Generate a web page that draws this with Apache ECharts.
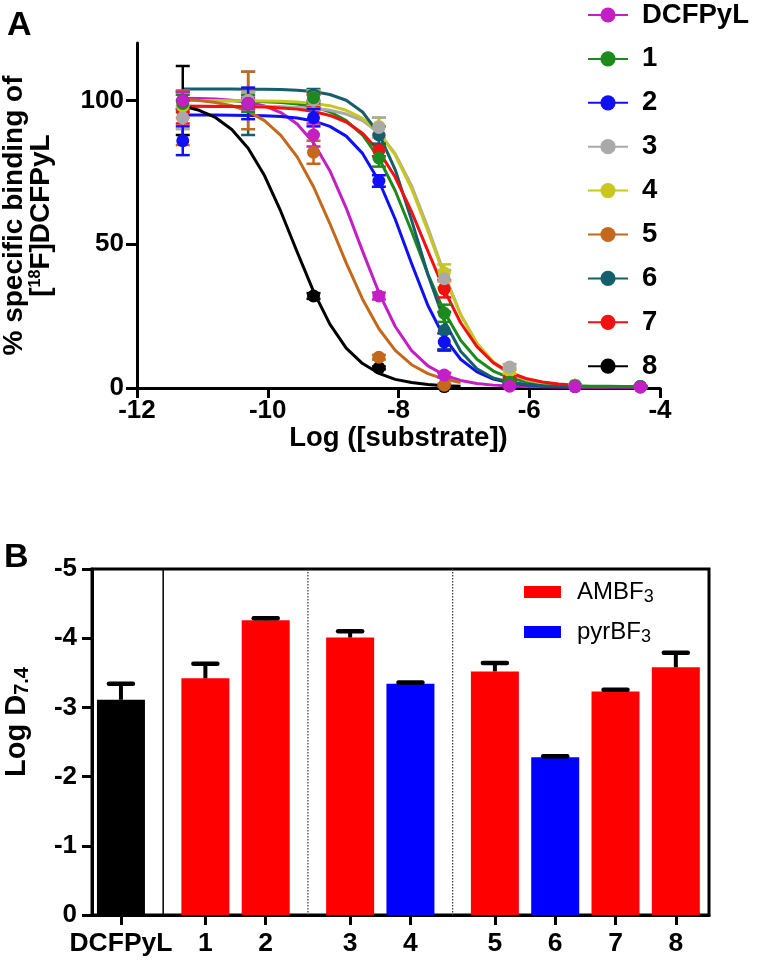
<!DOCTYPE html>
<html><head><meta charset="utf-8">
<script src="https://cdn.jsdelivr.net/npm/echarts@6/dist/echarts.min.js"></script>
<style>html,body{margin:0;padding:0;background:#fff}#c{width:757px;height:960px}</style>
</head><body><div id="c"></div>
<script>
// ---------- Panel A data ----------
const compoundNames = ['DCFPyL','1','2','3','4','5','6','7','8'];
const logConc = [-11.3,-10.3,-9.3,-8.3,-7.3,-6.3,-5.3,-4.3];
const meanDCFPyL = [100, 99, 88, 32, 4.5, 0.6, 0.5, 0.3];
const sdDCFPyL   = [3, 2, 4, 1.2, 0.8, 0.3, 0.2, 0.2];
const mean1 = [99, 99, 101, 80, 26, 2, 0.8, 0.5];
const sd1   = [3, 3, 2, 3, 3, 0.5, 0.3, 0.2];
const mean2 = [86, 99, 94, 72, 16, 1, 0.5, 0.4];
const sd2   = [5, 5.5, 3, 2, 3, 0.5, 0.3, 0.2];
const mean3 = [94, 100, 100, 90.6, 38, 7.3, 1, 0.5];
const sd3   = [4, 3, 3, 3.5, 3, 1, 0.3, 0.2];
const mean4 = [98, 100, 101, 91, 40, 6, 1, 0.5];
const sd4   = [4, 3, 2.5, 3, 3, 1, 0.3, 0.2];
const mean5 = [94, 100, 82, 10.7, 1];
const sd5   = [9.5, 10, 4, 0.8, 0.5];
const mean6 = [100, 99, 102, 88, 20, 2, 0.8, 0.5];
const sd6   = [3, 11, 2, 3, 6.5, 0.5, 0.3, 0.2];
const mean7 = [96, 100, 100, 82.6, 34.5, 3, 1, 0.5];
const sd7   = [4, 3, 2, 2, 3, 0.5, 0.3, 0.2];
const mean8 = [100, null, 32, 7, 0.5];
const sd8   = [12, null, 1, 0.5, 0.2];

const curveX = [-11.3,-11.05,-10.8,-10.55,-10.3,-10.05,-9.8,-9.55,-9.3,-9.05,-8.8,-8.55,-8.3,-8.05,-7.8,-7.55,-7.3,-7.05,-6.8,-6.55,-6.3,-6.05,-5.8,-5.55,-5.3,-5.05,-4.8,-4.55,-4.3];
const curveDCFPyL = [100.8,100.7,100.5,100.1,99.4,98.1,95.8,91.8,85.3,75.6,62.6,47.6,33.2,21.4,13.0,7.7,4.5,2.6,1.6,1.0,0.7,0.5,0.4,0.35,0.3,0.3,0.3,0.3,0.3];
const curve1 = [100.0,100.0,99.9,99.9,99.8,99.6,99.3,98.8,97.8,96.1,93.0,88.0,80.0,68.6,54.5,39.6,26.5,16.6,10.0,5.9,3.5,2.2,1.4,1.0,0.8,0.65,0.6,0.55,0.5];
const curve2 = [95.0,95.0,95.0,94.9,94.8,94.7,94.4,93.9,92.9,91.0,87.6,81.6,72.0,58.7,43.3,28.7,17.5,10.0,5.6,3.1,1.8,1.1,0.7,0.5,0.4];
const curve3 = [98.0,98.0,98.0,98.0,97.9,97.9,97.8,97.6,97.3,96.6,95.3,93.0,88.7,81.5,70.3,55.7,39.7,25.6,15.3,8.7,4.9,2.8,1.7,1.1,0.8];
const curve4 = [100.0,100.0,100.0,99.9,99.9,99.8,99.7,99.5,99.0,98.2,96.6,93.8,88.9,81.0,69.4,54.6,39.1,25.6,15.6,9.1,5.3,3.1,1.9,1.2,0.9];
const curve5 = [100.4,100.0,99.3,98.2,96.2,93.0,87.9,80.4,70.0,57.2,43.5,30.9,20.6,13.1,8.1,5.0,3.1,1.9];
const curve6 = [104.0,104.0,104.0,104.0,103.9,103.9,103.8,103.6,103.1,102.1,100.1,96.0,88.5,75.9,58.4,39.4,23.4,12.8,6.7,3.5,2.0,1.2,0.8,0.65,0.55];
const curve7 = [98.0,98.0,97.9,97.9,97.8,97.7,97.4,97.0,96.2,94.8,92.5,88.6,82.4,73.3,61.3,47.6,34.1,22.7,14.4,8.8,5.4,3.3,2.1,1.4,1.0];
const curve8 = [98.1,96.6,94.1,89.9,83.4,73.9,61.4,47.3,33.6,22.2,13.9,8.5,5.1,3.0,1.9,1.2,0.8,0.6];
const yTicksA = [0,50,100];

// ---------- Panel B data ----------
const barCats   = ['DCFPyL','1','2','3','4','5','6','7','8'];
const barGroup  = [0,1,1,2,2,3,3,3,3];
const barType   = ['DCFPyL','AMBF3','AMBF3','AMBF3','pyrBF3','AMBF3','pyrBF3','AMBF3','AMBF3'];
const barValues = [-3.11,-3.42,-4.26,-4.01,-3.34,-3.52,-2.28,-3.23,-3.58];
const barErrors = [0.23,0.21,0.03,0.09,0.02,0.12,0.015,0.025,0.21];

// ---------- styles ----------
const FONT = '"Liberation Sans", Arial, Helvetica, sans-serif';
const colors = ['#c41fc4','#1e8a1e','#1010f5','#a9a9a9','#c8c620','#c4681c','#145f6b','#f21010','#000000'];
const typeColor = {DCFPyL:'#000000', AMBF3:'#ff0000', pyrBF3:'#0000ff'};
const GROUP_GAP = 0.4;

const means = [meanDCFPyL,mean1,mean2,mean3,mean4,mean5,mean6,mean7,mean8];
const sds = [sdDCFPyL,sd1,sd2,sd3,sd4,sd5,sd6,sd7,sd8];
const curves = [curveDCFPyL,curve1,curve2,curve3,curve4,curve5,curve6,curve7,curve8];

function errRender(color){
  return function(params, api){
    const x = api.value(0), m = api.value(1), e = api.value(2);
    const t = api.coord([x, m + e]), b = api.coord([x, m - e]);
    const hw = 7, st = {stroke: color, lineWidth: 2.5};
    return {type:'group', children:[
      {type:'line', shape:{x1:t[0],y1:t[1],x2:b[0],y2:b[1]}, style:st},
      {type:'line', shape:{x1:t[0]-hw,y1:t[1],x2:t[0]+hw,y2:t[1]}, style:st},
      {type:'line', shape:{x1:b[0]-hw,y1:b[1],x2:b[0]+hw,y2:b[1]}, style:st}
    ]};
  };
}

const series = [];
compoundNames.forEach((name,k)=>{
  series.push({type:'line', name, xAxisIndex:0, yAxisIndex:0,
    data: curves[k].map((v,i)=>[curveX[i], v]),
    smooth:false, showSymbol:false, symbol:'circle', symbolSize:14,
    lineStyle:{color:colors[k], width:3, join:'round'}, itemStyle:{color:colors[k]}, z:2, silent:true});
});
for (let k = compoundNames.length-1; k >= 0; k--) {
  const pts = logConc.map((x,i)=>[x, means[k][i], sds[k][i]]).filter(p=>p[1]!=null);
  series.push({type:'custom', name:compoundNames[k]+' sd', xAxisIndex:0, yAxisIndex:0,
    renderItem: errRender(colors[k]), data: pts, z:3, silent:true});
  series.push({type:'scatter', name:compoundNames[k]+' pts', xAxisIndex:0, yAxisIndex:0,
    data: pts.map(p=>[p[0],p[1]]), symbolSize:13, itemStyle:{color:colors[k], opacity:1}, z:4, silent:true});
}

// Panel B
const barPos = barCats.map((c,i)=> i + barGroup[i]*GROUP_GAP);
const separators = [];
for (let i=1;i<barCats.length;i++) if (barGroup[i]!==barGroup[i-1]) separators.push((barPos[i-1]+barPos[i])/2);
['DCFPyL','AMBF3','pyrBF3'].forEach((t)=>{
  series.push({type:'bar', name:t==='DCFPyL'?'DCFPyL bar':t, xAxisIndex:1, yAxisIndex:1, barWidth:48, barGap:'-100%',
    itemStyle:{color:typeColor[t]}, z:2, silent:true,
    data: barCats.map((c,i)=> barType[i]===t ? [barPos[i], barValues[i]] : null).filter(Boolean)});
});
series.push({type:'custom', name:'separators', xAxisIndex:1, yAxisIndex:1, z:1, silent:true,
  data: separators.map((x,j)=>[x, j]),
  renderItem:function(params, api){
    const cs = params.coordSys;
    const px = api.coord([api.value(0), 0])[0];
    const first = api.value(1) === 0;
    return {type:'line', shape:{x1:px, y1:cs.y, x2:px, y2:cs.y+cs.height},
      style:{stroke: first ? '#000' : '#333', lineWidth: first ? 1.5 : 1.2, lineDash: first ? null : [1.5,1.5]}};
  }});
series.push({type:'custom', name:'barErr', xAxisIndex:1, yAxisIndex:1, z:3, silent:true,
  data: barCats.map((c,i)=>[barPos[i], barValues[i], barErrors[i]]),
  renderItem:function(params, api){
    const x = api.value(0), v = api.value(1), e = api.value(2);
    const a = api.coord([x, v]), b = api.coord([x, v - e]);
    return {type:'group', children:[
      {type:'line', shape:{x1:a[0],y1:a[1],x2:b[0],y2:b[1]}, style:{stroke:'#000', lineWidth:4}},
      {type:'line', shape:{x1:b[0]-12,y1:b[1],x2:b[0]+12,y2:b[1]}, style:{stroke:'#000', lineWidth:4.5, lineCap:'round'}}
    ]};
  }});

const axisLine = () => ({show:true, onZero:false, lineStyle:{color:'#000', width:3}});
const tick = {show:true, length:10, lineStyle:{color:'#000', width:3}};
const lbl = {color:'#000', fontSize:26, fontWeight:'bold', fontFamily:FONT};

const option = {
  animation:false,
  backgroundColor:'#fff',
  textStyle:{fontFamily:FONT},
  graphic:[
    {type:'text', left:7, top:9, style:{text:'A', font:'bold 34px '+FONT, fill:'#000'}},
    {type:'text', left:4, top:541, style:{text:'B', font:'bold 34px '+FONT, fill:'#000'}}
  ],
  legend:[
    {data:compoundNames, orient:'vertical', left:582, top:-4, itemWidth:40, itemHeight:19, itemGap:15.9,
     selectedMode:false,
     textStyle:{fontSize:27.5, fontWeight:'bold', color:'#000', fontFamily:FONT, lineHeight:27, padding:[0,0,0,9]}},
    {data:['AMBF3','pyrBF3'], orient:'vertical', left:519, top:573, itemWidth:37, itemHeight:12, itemGap:12,
     icon:'rect', selectedMode:false,
     formatter: n => n.replace(/(\d)$/, '{sub|$1}'),
     textStyle:{fontSize:24, color:'#000', fontFamily:FONT, lineHeight:28, padding:[0,0,0,11],
       rich:{sub:{fontSize:18, color:'#000', fontFamily:FONT, verticalAlign:'bottom', lineHeight:10}}}}
  ],
  grid:[
    {left:137, top:43, width:523, height:345, outerBoundsMode:'none', containLabel:false},
    {left:92, top:569, width:617, height:346, outerBoundsMode:'none', containLabel:false,
     show:true, borderColor:'#000', borderWidth:3, backgroundColor:'transparent'}
  ],
  xAxis:[
    {type:'value', gridIndex:0, min:-12, max:-4, interval:2,
     axisLine:axisLine(), axisTick:tick, splitLine:{show:false},
     axisLabel:{...lbl, margin:10},
     name:'Log ([substrate])', nameLocation:'middle', nameGap:35,
     nameTextStyle:{...lbl, fontSize:27.5}},
    {type:'value', gridIndex:1, min:-0.48, max:9.75,
     axisLine:axisLine(), splitLine:{show:false},
     axisTick:{...tick, customValues:barPos},
     axisLabel:{...lbl, fontSize:26.5, margin:15, customValues:barPos,
       formatter: v => { const i = barPos.findIndex(p=>Math.abs(p-v)<1e-6); return i>=0 ? barCats[i] : ''; }}}
  ],
  yAxis:[
    {type:'value', gridIndex:0, min:0, max:120, interval:50,
     axisLine:axisLine(), splitLine:{show:false},
     axisTick:{...tick, length:11, customValues:yTicksA},
     axisLabel:{...lbl, margin:13, customValues:yTicksA},
     name:'% specific binding of\n[{sup|18}F]DCFPyL', nameLocation:'middle', nameGap:82, nameRotate:90,
     nameTextStyle:{...lbl, fontSize:28, lineHeight:27,
       rich:{sup:{fontSize:16, fontWeight:'bold', color:'#000', fontFamily:FONT, verticalAlign:'top', lineHeight:16}}}},
    {type:'value', gridIndex:1, min:-5, max:0, interval:1, inverse:true,
     axisLine:axisLine(), splitLine:{show:false},
     axisTick:{...tick},
     axisLabel:{...lbl, margin:15},
     name:'Log D{sub|7.4}', nameLocation:'middle', nameGap:60, nameRotate:90,
     nameTextStyle:{...lbl, fontSize:29, lineHeight:30, padding:[0,0,0,40],
       rich:{sub:{fontSize:20, fontWeight:'bold', color:'#000', fontFamily:FONT, verticalAlign:'bottom', lineHeight:14}}}}
  ],
  series
};
const chart = echarts.init(document.getElementById('c'), null, {renderer:'canvas'});
chart.setOption(option);
</script></body></html>
